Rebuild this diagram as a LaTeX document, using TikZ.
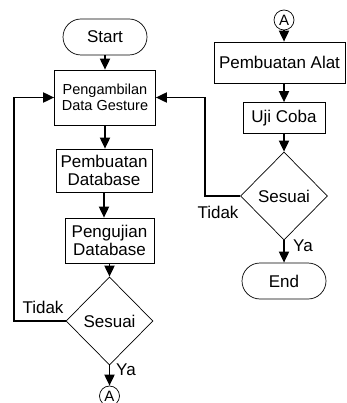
\documentclass[tikz,border=0pt]{standalone}
\usepackage{fontspec}
\setmainfont{Liberation Sans}
\usetikzlibrary{arrows.meta,shapes.geometric}
\begin{document}
\begin{tikzpicture}[x=1pt,y=-1pt,
  box/.style={draw, line width=0.7pt, inner sep=0pt, align=center, font=\fontsize{17}{17.5}\selectfont},
  term/.style={box, rounded corners=18pt, minimum width=84pt, minimum height=36pt},
  dec/.style={draw, line width=0.7pt, diamond, inner sep=0pt, minimum width=87pt, minimum height=88pt, font=\fontsize{17}{17.5}\selectfont},
  conn/.style={draw, circle, line width=0.7pt, inner sep=0pt, minimum size=20pt, font=\fontsize{15}{15}\selectfont},
  arr/.style={line width=1.8pt, -{Triangle[length=11pt,width=10pt]}},
  lab/.style={font=\fontsize{17}{17}\selectfont, inner sep=0pt}
]
\useasboundingbox (0,0) rectangle (346,403);
% left column
\node[term] (start) at (105,37) {Start};
\node[box, minimum width=101pt, minimum height=55pt, font=\fontsize{14.5}{16}\selectfont] (p1) at (105,97.5) {Pengambilan\\Data Gesture};
\node[box, minimum width=96pt, minimum height=43pt] (p2) at (104,170.5) {Pembuatan\\Database};
\node[box, minimum width=89pt, minimum height=45pt] (p3) at (109.5,240.5) {Pengujian\\Database};
\node[dec] (d1) at (109.5,321) {Sesuai};
\node[conn] (a1) at (109.5,396) {A};
% right column
\node[conn] (a2) at (284,20) {A};
\node[box, minimum width=131pt, minimum height=41pt] (p4) at (279.5,62.5) {Pembuatan Alat};
\node[box, minimum width=82pt, minimum height=31pt] (p5) at (284,118) {Uji Coba};
\node[dec] (d2) at (284,196) {Sesuai};
\node[term] (end) at (284,281) {End};
% connectors
\draw[arr] (start) -- (start |- p1.north);
\draw[arr] (p1) -- (p1 |- p2.north);
\draw[arr] (p2) -- (p2 |- p3.north);
\draw[arr] (p3) -- (d1.north);
\draw[arr] (d1) -- (a1);
\coordinate (l1) at (14,321);
\draw[arr] (d1.west) -- (l1) |- (p1.west);
\draw[arr] (a2) -- (a2 |- p4.north);
\draw[arr] (p4.south -| p5) -- (p5.north);
\draw[arr] (p5) -- (d2.north);
\draw[arr] (d2) -- (end);
\coordinate (l2) at (205,196);
\draw[arr] (d2.west) -- (l2) |- (p1.east);
% labels
\node[lab] (t1) at (43,307) {Tidak};
\node[lab] (y1) at (126,370) {Ya};
\node[lab] (t2) at (218,212) {Tidak};
\node[lab] (y2) at (303,246) {Ya};
\end{tikzpicture}
\end{document}
